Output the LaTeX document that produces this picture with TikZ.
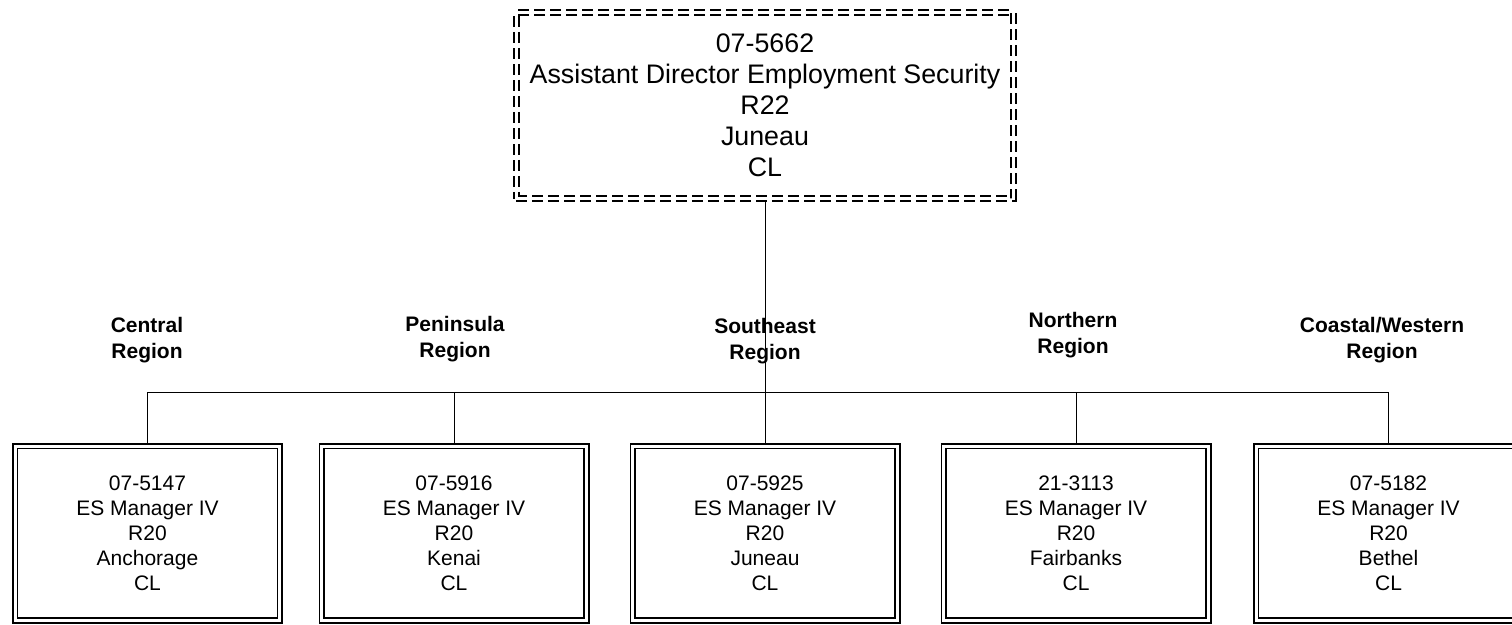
\documentclass[tikz,border=0pt]{standalone}
\usepackage{fontspec}
\setmainfont{Liberation Sans}
\begin{document}
\begin{tikzpicture}[x=1pt,y=-1pt,
  topbox/.style={draw=black, double=white, line width=1.7pt, double distance=3.4pt,
    dash pattern=on 11pt off 5pt, minimum width=497.2pt, minimum height=186.2pt,
    inner sep=0pt, outer sep=3.4pt, align=center, font=\fontsize{26.8}{31}\selectfont},
  posbox/.style={draw=black, double=white, line width=1.7pt, double distance=3pt,
    minimum width=264.6pt, minimum height=174.1pt, inner sep=0pt, outer sep=3.2pt,
    align=center, font=\fontsize{21}{25}\selectfont},
  region/.style={align=center, inner sep=0pt, font=\fontsize{21}{25.5}\selectfont\bfseries},
  link/.style={draw=black, line width=1pt}]
\useasboundingbox (0,0) rectangle (1512,624);
\clip (0,0) rectangle (1512,624);
% region labels
\node[region] (rc) at (147,340) {Central\\Region};
\node[region] (rp) at (455,339) {Peninsula\\Region};
\node[region] (rs) at (765,341) {Southeast\\Region};
\node[region] (rn) at (1073,335) {Northern\\Region};
\node[region] (rw) at (1382,340) {Coastal/Western\\Region};
% boxes
\node[topbox] (top) at (765,105.5) {07-5662\\Assistant Director Employment Security\\R22\\Juneau\\CL};
\node[posbox] (b1) at (147.5,533.25) {07-5147\\ES Manager IV\\R20\\Anchorage\\CL};
\node[posbox] (b2) at (454,533.25) {07-5916\\ES Manager IV\\R20\\Kenai\\CL};
\node[posbox] (b3) at (765,533.25) {07-5925\\ES Manager IV\\R20\\Juneau\\CL};
\node[posbox] (b4) at (1076,533.25) {21-3113\\ES Manager IV\\R20\\Fairbanks\\CL};
\node[posbox] (b5) at (1388.5,533.25) {07-5182\\ES Manager IV\\R20\\Bethel\\CL};
% junctions
\coordinate (j1) at (147.5,392);
\coordinate (j2) at (454,392);
\coordinate (j4) at (1076,392);
\coordinate (j5) at (1388.5,392);
% connectors
\draw[link] (top.south) -- (b3.north);
\draw[link] (b1.north) -- (j1) -- (j5) -- (b5.north);
\draw[link] (b2.north) -- (j2);
\draw[link] (b4.north) -- (j4);
\end{tikzpicture}
\end{document}
